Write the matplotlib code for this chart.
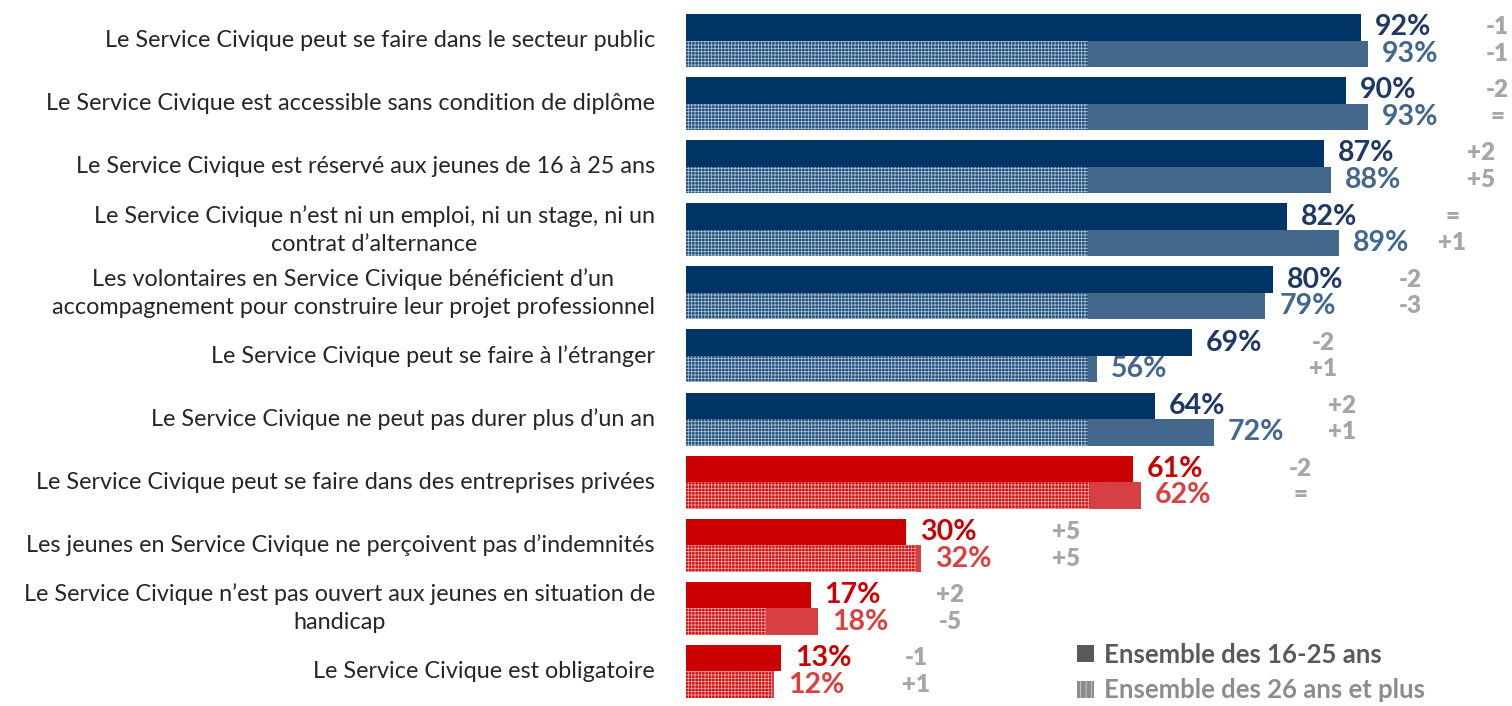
import matplotlib.pyplot as plt
import numpy as np
from matplotlib.patches import Patch

plt.rcParams['font.family'] = ['Lato', 'DejaVu Sans']
plt.rcParams['hatch.linewidth'] = 0.6

categories = [
    "Le Service Civique peut se faire dans le secteur public",
    "Le Service Civique est accessible sans condition de diplôme",
    "Le Service Civique est réservé aux jeunes de 16 à 25 ans",
    "Le Service Civique n’est ni un emploi, ni un stage, ni un\ncontrat d’alternance",
    "Les volontaires en Service Civique bénéficient d’un\naccompagnement pour construire leur projet professionnel",
    "Le Service Civique peut se faire à l’étranger",
    "Le Service Civique ne peut pas durer plus d’un an",
    "Le Service Civique peut se faire dans des entreprises privées",
    "Les jeunes en Service Civique ne perçoivent pas d’indemnités",
    "Le Service Civique n’est pas ouvert aux jeunes en situation de\nhandicap",
    "Le Service Civique est obligatoire",
]
jeunes_16_25 = [92, 90, 87, 82, 80, 69, 64, 61, 30, 17, 13]
adultes_26_plus = [93, 93, 88, 89, 79, 56, 72, 62, 32, 18, 12]
evol_16_25 = ["-1", "-2", "+2", "=", "-2", "-2", "+2", "-2", "+5", "+2", "-1"]
evol_26_plus = ["-1", "=", "+5", "+1", "-3", "+1", "+1", "=", "+5", "-5", "+1"]
faux = [False] * 7 + [True] * 4   # idees fausses en rouge

# layout only: where the hatch stops and where the evolution column sits
trame = [54.8] * 7 + [55.1, 31.3, 10.9, 11.7]
evol_x = [110.6, 110.6, 108.4, 104.5, 98.8, 86.9, 89.5, 83.8, 51.8, 36.0, 31.4]

fig = plt.figure(figsize=(15.12, 7.06), dpi=100)
x0 = 686 / 1512
ax = fig.add_axes([x0, 0, 1 - x0, 1])
px = 7.333  # pixels per percent
ax.set_xlim(0, (1512 - 686) / px)
ax.set_ylim(10.547, -0.642)
ax.axis('off')

h = 0.42
y = np.arange(len(categories))
for i in range(len(categories)):
    if faux[i]:
        c1, c2, c2h, hc, t1, t2 = '#CC0000', '#D64045', '#CC1010', '#F0A0A0', '#CC0000', '#D94040'
    else:
        c1, c2, c2h, hc, t1, t2 = '#003366', '#44678C', '#1F4E79', '#A8BCD2', '#1F3864', '#44678C'
    ax.barh(y[i] - h / 2, jeunes_16_25[i], height=h, color=c1, linewidth=0)
    ax.barh(y[i] + h / 2, adultes_26_plus[i], height=h, color=c2, linewidth=0)
    ax.barh(y[i] + h / 2, min(trame[i], adultes_26_plus[i]), height=h,
            facecolor=c2h, edgecolor=hc, hatch='+++++', linewidth=0)
    ax.text(jeunes_16_25[i] + 1.9, y[i] - h / 2, f"{jeunes_16_25[i]}%", ha='left', va='center',
            fontsize=20.5, fontweight='bold', color=t1)
    ax.text(adultes_26_plus[i] + 1.9, y[i] + h / 2, f"{adultes_26_plus[i]}%", ha='left', va='center',
            fontsize=20.5, fontweight='bold', color=t2)
    ax.text(evol_x[i], y[i] - h / 2, evol_16_25[i], ha='center', va='center',
            fontsize=17.5, fontweight='heavy', color='#A6A6A6')
    ax.text(evol_x[i], y[i] + h / 2, evol_26_plus[i], ha='center', va='center',
            fontsize=17.5, fontweight='heavy', color='#A6A6A6')
    ax.text(-31 / px, y[i], categories[i], ha='right', va='center', multialignment='center',
            fontsize=16.8, color='#262626', clip_on=False, linespacing=1.42)

handles = [Patch(facecolor='#595959', linewidth=0),
           Patch(facecolor='#8C8C8C', edgecolor='#D0D0D0', hatch='|||', linewidth=0)]
fig.legend(handles, ["Ensemble des 16-25 ans", "Ensemble des 26 ans et plus"],
           loc='upper left', bbox_to_anchor=(1064 / 1512, 1 - 630 / 706), frameon=False,
           labelcolor=['#595959', '#8C8C8C'], prop={'weight': 'bold', 'size': 18.5},
           handlelength=0.65, handleheight=0.65, handletextpad=0.4, labelspacing=0.45,
           borderpad=0)

fig.savefig('out.png', dpi=100)
